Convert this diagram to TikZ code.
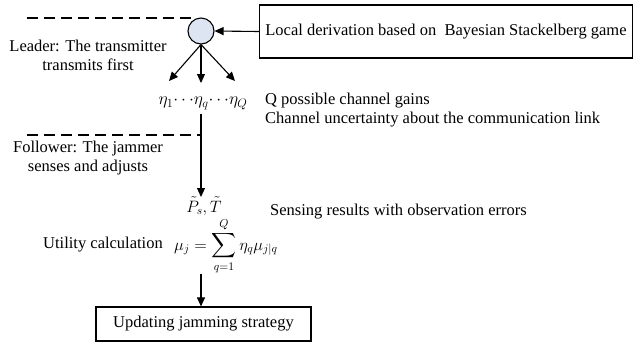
\RequirePackage{fix-cm}
\documentclass[tikz,border=0pt]{standalone}
\usepackage{amsmath}
\usepackage{fontspec}
\setmainfont{Liberation Serif}
\usetikzlibrary{arrows.meta}
\begin{document}
\begin{tikzpicture}[x=1pt,y=-1pt,
  every node/.style={font=\fontsize{16.5}{19}\selectfont, inner sep=0pt},
  arr/.style={-{Triangle[length=9pt,width=8pt]}, line width=1.1pt},
  dash line/.style={line width=1.3pt, dash pattern=on 11pt off 6pt},
  boxed/.style={draw, line width=1.2pt}]
\useasboundingbox (0,0) rectangle (634,349);
% top dashed line
\coordinate (d1s) at (27,18);
\coordinate (d1e) at (197,18);
\draw[dash line] (d1s) -- (d1e);
% circle
\node[draw, circle, fill={rgb,255:red,222;green,229;blue,242}, line width=1.1pt, minimum size=26pt] (circ) at (201,31) {};
% top box
\node[boxed, minimum width=373pt, minimum height=53pt] (topbox) at (446,31.5) {Local derivation based on\ \ Bayesian Stackelberg game};
\draw[arr] (topbox.west) -- (circ.east);
% leader text
\node[align=center] (leader) at (88,55) {Leader: The transmitter\\transmits first};
% three arrows
\coordinate (a1) at (169,81);
\coordinate (a2) at (201,83);
\coordinate (a3) at (235,81);
\draw[arr] (circ.south) -- (a1);
\draw[arr] (circ.south) -- (a2);
\draw[arr] (circ.south) -- (a3);
% etas
\node[font=\fontsize{17.5}{20}\selectfont] (etas) at (203,103) {$\eta_1{\cdots}\eta_q{\cdots}\eta_Q$};
\node[align=left, anchor=west] (qtext) at (265,110) {Q possible channel gains\\Channel uncertainty about the communication link};
% second dashed
\coordinate (d2s) at (27,135);
\coordinate (d2e) at (201,135);
\draw[dash line] (d2s) -- (d2e);
\node[align=center] (follower) at (88,158) {Follower: The jammer\\senses and adjusts};
% P T
\node[anchor=base] (pt) at (204,212) {$\tilde{P}_s,\tilde{T}$};
\coordinate (v1) at (201,114);
\coordinate (v2) at (201,197);
\draw[arr] (v1) -- (v2);
\node[anchor=west] (sens) at (270,212) {Sensing results with observation errors};
% utility
\node[anchor=base east] (util) at (163,248) {Utility calculation};
\node[anchor=base west] (formula) at (174,250) {$\mu_j=\displaystyle\sum_{q=1}^{Q}\eta_q\mu_{j|q}$};
% bottom box
\node[boxed, minimum width=215pt, minimum height=34pt] (botbox) at (203.5,324) {Updating jamming strategy};
\coordinate (f1) at (201,274);
\draw[arr] (f1) -- (f1 |- botbox.north);
\end{tikzpicture}
\end{document}
